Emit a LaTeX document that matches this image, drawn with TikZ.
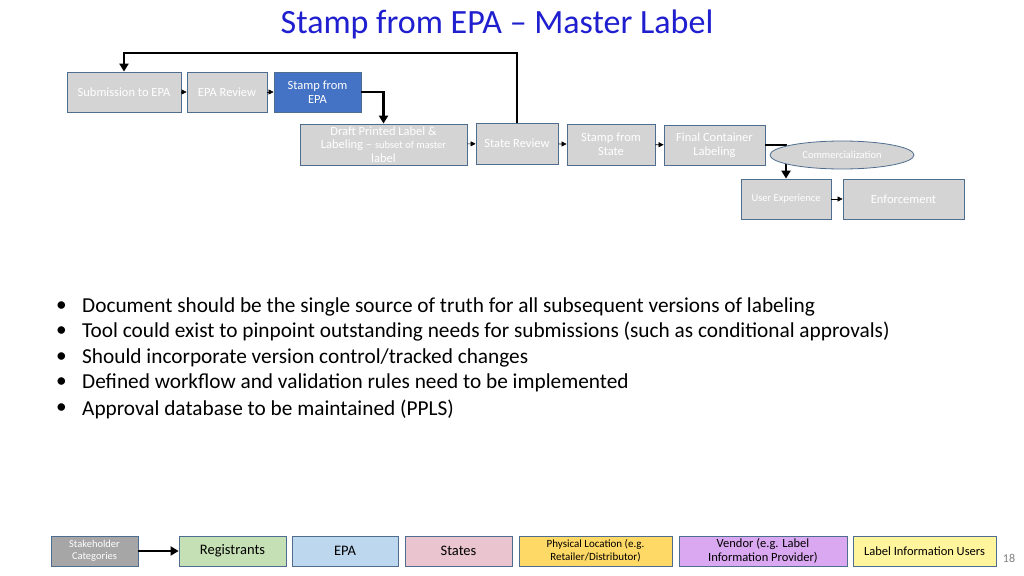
\documentclass[tikz,border=0pt]{standalone}
\usepackage{fontspec}
\setmainfont{Carlito}
\usetikzlibrary{shapes.geometric,arrows.meta}
\definecolor{bx}{HTML}{D4D4D4}
\definecolor{bd}{HTML}{4F6D8F}
\definecolor{ttl}{HTML}{1F1FD0}
\begin{document}
\begin{tikzpicture}[x=1pt,y=-1pt,
 box/.style={draw=bd,line width=0.8pt,fill=bx,text=white,align=center,inner sep=1pt,font=\fontsize{12.5}{13.5}\selectfont},
 leg/.style={draw=bd,line width=0.8pt,align=center,inner sep=1pt,font=\fontsize{12.5}{13.5}\selectfont},
 thin/.style={-{Triangle[length=5pt,width=5pt]},line width=0.6pt},
 thick/.style={-{Triangle[length=8pt,width=9pt]},line width=2.2pt}]
\useasboundingbox (0,0) rectangle (1024,575);
\fill[white] (0,0) rectangle (1024,575);
\node[text=ttl,font=\fontsize{34}{36}\selectfont] (title) at (497,24) {Stamp from EPA – Master Label};
\node[box,minimum width=114,minimum height=40] (sub) at (124,92) {Submission to EPA};
\node[box,minimum width=80,minimum height=40] (rev) at (227,92) {EPA Review};
\node[box,fill={rgb,255:red,68;green,114;blue,196},minimum width=87,minimum height=40] (sepa) at (317.5,92) {Stamp from\\EPA};
\node[box,minimum width=167,minimum height=41] (draft) at (383.5,144.5) {Draft Printed Label \&\\Labeling – {\fontsize{10.5}{11}\selectfont subset of master}\\label};
\node[box,minimum width=82,minimum height=41] (srev) at (517,143.5) {State Review};
\node[box,minimum width=88,minimum height=41] (sst) at (611,144.5) {Stamp from\\State};
\node[box,minimum width=101,minimum height=40] (fcl) at (714.5,145) {Final Container\\Labeling};
\node[box,minimum width=90,minimum height=40,font=\fontsize{10.5}{11}\selectfont] (ux) at (786,199) {User Experience};
\node[box,minimum width=121,minimum height=40] (enf) at (903.5,199) {Enforcement};
\draw[thin] (sub) -- (rev);
\draw[thin] (rev) -- (sepa);
\draw[thin] (draft) -- (srev);
\draw[thin] (srev) -- (sst);
\draw[thin] (sst) -- (fcl);
\draw[thin] (ux) -- (enf);
\draw[thick] (srev.north) -- (517,53) -| (sub.north);
\draw[thick] (sepa.east) -| (draft.north);
\draw[thick] (fcl.east) -| (ux.north);
\node[box,ellipse,minimum width=144,minimum height=28,inner sep=0pt,font=\fontsize{10.5}{11}\selectfont] (com) at (842,155) {Commercialization};
\foreach \y/\t in {307/{Document should be the single source of truth for all subsequent versions of labeling},
 332/{Tool could exist to pinpoint outstanding needs for submissions (such as conditional approvals)},
 358/{Should incorporate version control/tracked changes},
 383/{Defined workflow and validation rules need to be implemented},
 409/{Approval database to be maintained (PPLS)}}{
 \node[anchor=west,font=\fontsize{21.3}{22}\selectfont,inner sep=0pt] at (56,\y) {•};
 \node[anchor=west,font=\fontsize{21.3}{22}\selectfont,inner sep=0pt] at (82,\y) {\t};}
\node[leg,fill={rgb,255:red,166;green,166;blue,166},text=white,minimum width=87,minimum height=30,font=\fontsize{10.5}{12}\selectfont] (l0) at (94.5,551) {Stakeholder\\Categories};
\node[leg,fill={rgb,255:red,197;green,224;blue,180},minimum width=107,minimum height=30,font=\fontsize{14.5}{15}\selectfont] (l1) at (232.5,551) {Registrants};
\node[leg,fill={rgb,255:red,189;green,215;blue,238},minimum width=106,minimum height=30,font=\fontsize{14.5}{15}\selectfont] (l2) at (345,551) {EPA};
\node[leg,fill={rgb,255:red,234;green,196;blue,207},minimum width=107,minimum height=30,font=\fontsize{14.5}{15}\selectfont] (l3) at (458.5,551) {States};
\node[leg,fill={rgb,255:red,255;green,217;blue,102},minimum width=153,minimum height=30,font=\fontsize{11}{13}\selectfont] (l4) at (595.5,551) {Physical Location (e.g.\\Retailer/Distributor)};
\node[leg,fill={rgb,255:red,218;green,168;blue,240},minimum width=168,minimum height=30,font=\fontsize{12.5}{14}\selectfont] (l5) at (763,551) {Vendor (e.g. Label\\Information Provider)};
\node[leg,fill={rgb,255:red,255;green,245;blue,157},minimum width=143,minimum height=30,font=\fontsize{12.5}{13}\selectfont] (l6) at (924.5,551) {Label Information Users};
\draw[thick,line width=1.8pt] (l0) -- (l1);
\node[text=gray,font=\fontsize{12}{13}\selectfont] (pg) at (1009,558) {18};
\end{tikzpicture}
\end{document}
